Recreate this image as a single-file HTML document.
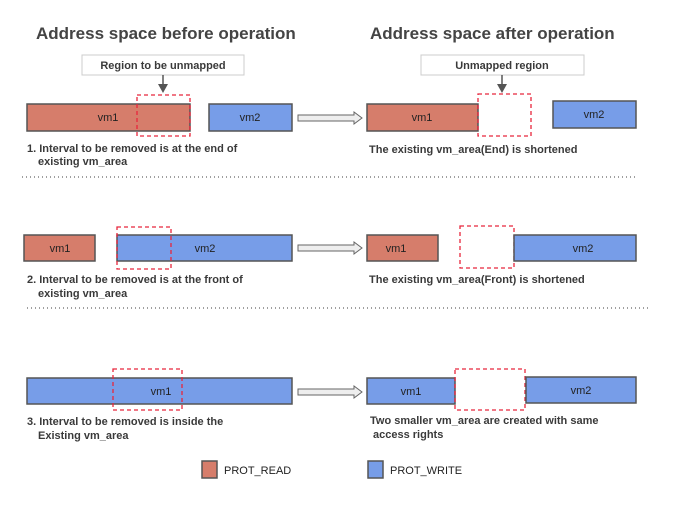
<!DOCTYPE html>
<html><head><meta charset="utf-8"><style>
html,body{margin:0;padding:0;background:#fff;}
svg{display:block;}
text{font-family:"Liberation Sans",sans-serif;fill:#333;}
.b{font-weight:bold;font-size:11px;fill:#3a3a3a;}
.v{font-size:11px;fill:#222;}
.r{fill:#d67d6b;stroke:#555;stroke-width:1.5;}
.u{fill:#779de8;stroke:#555;stroke-width:1.5;}
.d{fill:none;stroke:#e8263c;stroke-width:1.3;stroke-dasharray:4,3;}
.dot{stroke:#666;stroke-width:1.2;stroke-dasharray:1,3;}
.ar{fill:#eee;stroke:#666;stroke-width:1;}
</style></head><body>
<svg width="681" height="527" viewBox="0 0 681 527">
<text x="36" y="39" font-size="17" font-weight="bold" style="fill:#444">Address space before operation</text>
<text x="370" y="39" font-size="17" font-weight="bold" style="fill:#444">Address space after operation</text>

<rect x="82" y="55" width="162" height="20" fill="#fff" stroke="#ccc"/>
<text x="163" y="69" text-anchor="middle" class="b">Region to be unmapped</text>
<line x1="163" y1="75" x2="163" y2="86" stroke="#555" stroke-width="1.5"/>
<polygon points="158,84 168,84 163,93" fill="#555"/>
<rect x="421" y="55" width="163" height="20" fill="#fff" stroke="#ccc"/>
<text x="502" y="69" text-anchor="middle" class="b">Unmapped region</text>
<line x1="502" y1="75" x2="502" y2="86" stroke="#555" stroke-width="1.5"/>
<polygon points="497,84 507,84 502,93" fill="#555"/>

<!-- row1 -->
<rect class="r" x="27" y="104" width="163" height="27"/>
<text class="v" x="108" y="121" text-anchor="middle">vm1</text>
<rect class="d" x="137" y="95" width="53" height="41"/>
<rect class="u" x="209" y="104" width="83" height="27"/>
<text class="v" x="250" y="121" text-anchor="middle">vm2</text>
<polygon class="ar" points="298,115 354,115 354,112 362,118 354,124 354,121 298,121"/>
<rect class="r" x="367" y="104" width="111" height="27"/>
<text class="v" x="422" y="121" text-anchor="middle">vm1</text>
<rect class="d" x="478" y="94" width="53" height="42"/>
<rect class="u" x="553" y="101" width="83" height="27"/>
<text class="v" x="594" y="118" text-anchor="middle">vm2</text>
<text class="b" x="27" y="152">1. Interval to be removed is at the end of</text>
<text class="b" x="38" y="165">existing vm_area</text>
<text class="b" x="369" y="153">The existing vm_area(End) is shortened</text>
<line class="dot" x1="22" y1="177" x2="636" y2="177"/>

<!-- row2 -->
<rect class="r" x="24" y="235" width="71" height="26"/>
<text class="v" x="60" y="252" text-anchor="middle">vm1</text>
<rect class="u" x="117" y="235" width="175" height="26"/>
<text class="v" x="205" y="252" text-anchor="middle">vm2</text>
<rect class="d" x="117" y="227" width="54" height="42"/>
<polygon class="ar" points="298,245 354,245 354,242 362,248 354,254 354,251 298,251"/>
<rect class="r" x="367" y="235" width="71" height="26"/>
<text class="v" x="396" y="252" text-anchor="middle">vm1</text>
<rect class="d" x="460" y="226" width="54" height="42"/>
<rect class="u" x="514" y="235" width="122" height="26"/>
<text class="v" x="583" y="252" text-anchor="middle">vm2</text>
<text class="b" x="27" y="283">2. Interval to be removed is at the front of</text>
<text class="b" x="38" y="297">existing vm_area</text>
<text class="b" x="369" y="283">The existing vm_area(Front) is shortened</text>
<line class="dot" x1="27" y1="308" x2="650" y2="308"/>

<!-- row3 -->
<rect class="u" x="27" y="378" width="265" height="26"/>
<text class="v" x="161" y="395" text-anchor="middle">vm1</text>
<rect class="d" x="113" y="369" width="69" height="41"/>
<polygon class="ar" points="298,389 354,389 354,386 362,392 354,398 354,395 298,395"/>
<rect class="u" x="367" y="378" width="88" height="26"/>
<text class="v" x="411" y="395" text-anchor="middle">vm1</text>
<rect class="d" x="455" y="369" width="70" height="41"/>
<rect class="u" x="526" y="377" width="110" height="26"/>
<text class="v" x="581" y="394" text-anchor="middle">vm2</text>
<text class="b" x="370" y="424">Two smaller vm_area are created with same</text>
<text class="b" x="373" y="438">access rights</text>
<text class="b" x="27" y="425">3. Interval to be removed is inside the</text>
<text class="b" x="38" y="439">Existing vm_area</text>

<!-- legend -->
<rect class="r" x="202" y="461" width="15" height="17"/>
<text x="224" y="474" font-size="11" style="fill:#222">PROT_READ</text>
<rect class="u" x="368" y="461" width="15" height="17"/>
<text x="390" y="474" font-size="11" style="fill:#222">PROT_WRITE</text>
</svg>
</body></html>
